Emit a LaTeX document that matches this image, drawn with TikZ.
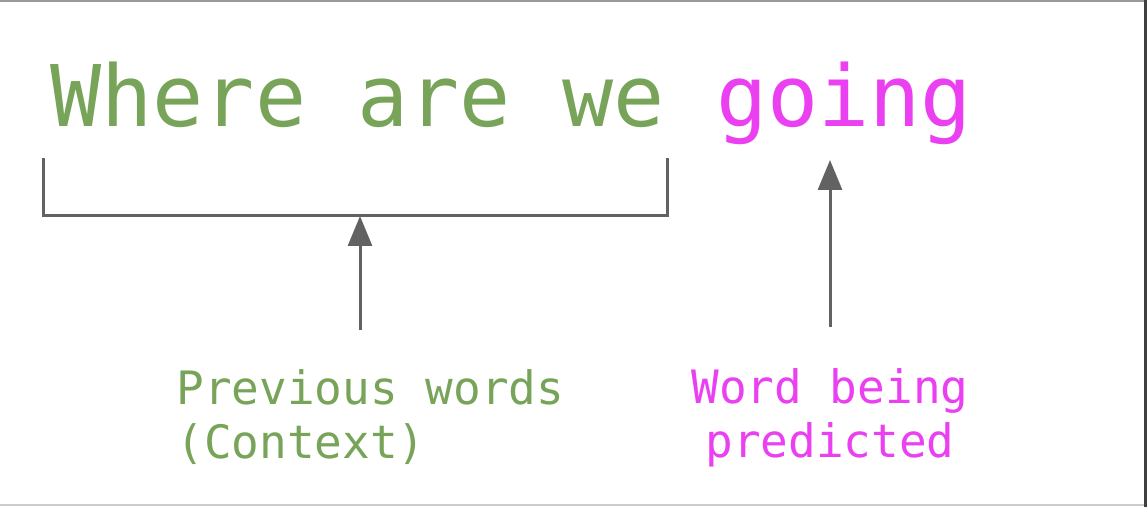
\documentclass[tikz,border=0pt]{standalone}
\usepackage{fontspec}
\setmonofont{DejaVu Sans Mono}
\usetikzlibrary{arrows.meta}
\definecolor{ctxgreen}{RGB}{120,164,90}
\definecolor{predpink}{RGB}{234,64,242}
\definecolor{linegray}{RGB}{98,98,98}

\begin{document}
\begin{tikzpicture}[x=0.5pt,y=-0.5pt,
		bigword/.style={inner sep=0pt,anchor=base west,font=\ttfamily\fontsize{42.5}{50}\selectfont},
		caption/.style={inner sep=0pt,font=\ttfamily\fontsize{23}{27}\selectfont},
		pointer/.style={linegray,line width=1.5pt,-{Triangle[length=15pt,width=12pt]}}]
		\useasboundingbox (0,0) rectangle (1147,507);
		
		%frame of the screenshot
		\draw[gray!80,line width=1pt] (0,1) -- (1147,1);
		\draw[gray!40,line width=1pt] (0,505) -- (1147,505);
		\draw[black!75,line width=1.5pt] (1145.5,0) -- (1145.5,507);
		
		%sentence
		\node[bigword,text=ctxgreen] (context) at (50,127) {Where are we};
		\node[bigword,text=predpink] (target) at (715.6,127) {going};
		
		%bracket under the context words
		\coordinate (bl) at (43,158);
		\coordinate (br) at (667,158);
		\draw[linegray,line width=1.5pt] (bl) -- (43,216) -- (667,216) -- (br);
		\coordinate (bmid) at (360,216);
		
		%labels (base = last line)
		\node[caption,text=ctxgreen,align=left,anchor=base west] (ctxlabel) at (176,459) {Previous words\\(Context)};
		\node[caption,text=predpink,align=center,anchor=base] (predlabel) at (830,458) {Word being\\predicted};
		
		%arrows
		\coordinate (ctxtail) at (360,330);
		\coordinate (predtail) at (830,327);
		\coordinate (predtip) at (830,160);
		\draw[pointer] (ctxtail) -- (bmid);
		\draw[pointer] (predtail) -- (predtip);
		
	\end{tikzpicture}
\end{document}
